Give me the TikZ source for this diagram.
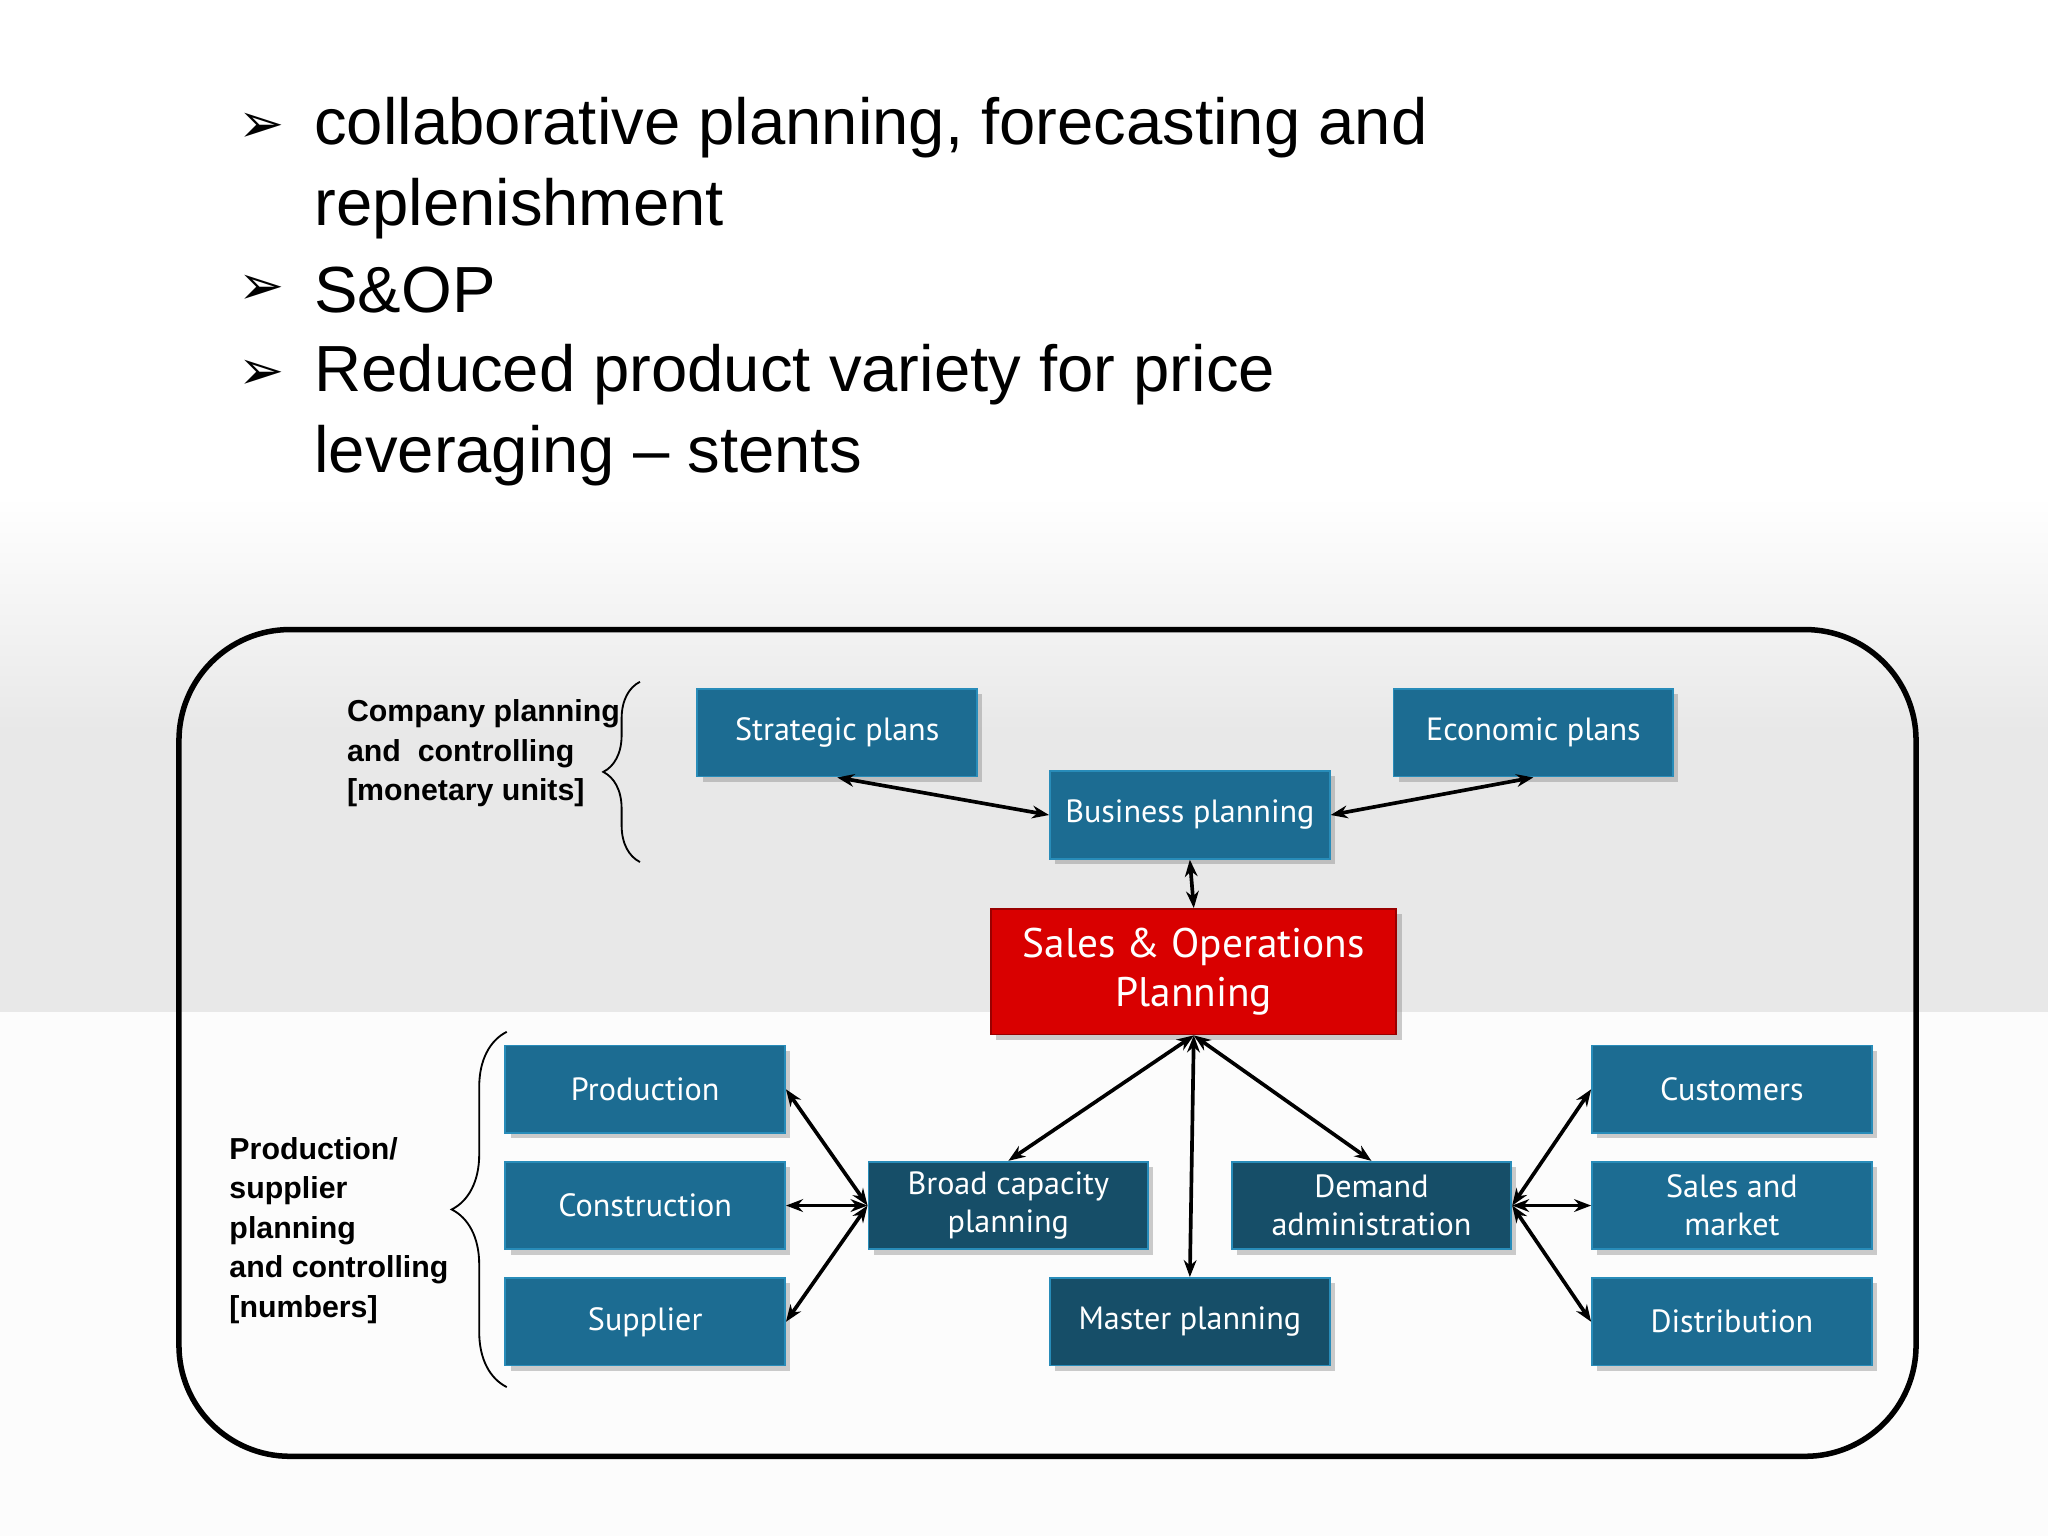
\documentclass[tikz,border=0pt]{standalone}
\usepackage{fontspec}
\setmainfont{Liberation Sans}
\newfontfamily\boxfont{PT Sans}
\newfontfamily\symfont{DejaVu Sans}
\usetikzlibrary{decorations.pathreplacing,arrows.meta,shadows}
\definecolor{bfill}{RGB}{28,108,146}
\definecolor{bdraw}{RGB}{40,140,185}
\definecolor{dfill}{RGB}{22,78,104}
\begin{document}
\begin{tikzpicture}[x=0.01cm,y=-0.01cm,
  bx/.style={draw=bdraw,fill=bfill,text=white,minimum width=2.14cm,minimum height=0.67cm,font=\boxfont\fontsize{7}{8.3}\selectfont,align=center,inner sep=1pt,drop shadow={opacity=0.4,shadow xshift=0.4mm,shadow yshift=-0.4mm}},
  dk/.style={bx,fill=dfill},
  ar/.style={{Stealth[length=1.3mm]}-{Stealth[length=1.3mm]},thick},
  lab/.style={font=\fontsize{6.6}{8.6}\selectfont\bfseries,align=left,anchor=north west,inner sep=0}]
\useasboundingbox (0,0) rectangle (1568,1176);
\fill[white] (0,0) rectangle (1568,1176);
\shade[top color=white,bottom color=black!9] (0,380) rectangle (1568,560);
\fill[black!9] (0,559) rectangle (1568,775);
\fill[black!1] (0,775) rectangle (1568,1176);
\foreach \y/\t in {98/{collaborative planning, forecasting and},222/{S\&OP},287/{Reduced product variety for price}}{
  \node[anchor=west,inner sep=0,font=\fontsize{14.2}{15}\selectfont] (b\y) at (240,\y) {\t};
  \node[anchor=west,inner sep=0,font=\symfont\fontsize{12}{13}\selectfont] at (182,\y) {➢};}
\node[anchor=west,inner sep=0,font=\fontsize{14.2}{15}\selectfont] (l2) at (240,160) {replenishment};
\node[anchor=west,inner sep=0,font=\fontsize{14.2}{15}\selectfont] (l5) at (240,349) {leveraging – stents};
\draw[line width=1.2pt,rounded corners=0.85cm] (137,482) rectangle (1467,1115);
\node[bx] (sp) at (641,561) {Strategic plans};
\node[bx] (ep) at (1174,561) {Economic plans};
\node[bx] (bp) at (911,624) {Business planning};
\node[draw=red!60!black,fill=red!85!black,text=white,minimum width=3.1cm,minimum height=0.96cm,font=\boxfont\fontsize{9}{10.5}\selectfont,align=center,drop shadow={opacity=0.4,shadow xshift=0.4mm,shadow yshift=-0.4mm}] (sop) at (914,744) {Sales \& Operations\\Planning};
\node[bx] (pr) at (494,834) {Production};
\node[bx] (co) at (494,923) {Construction};
\node[bx] (su) at (494,1012) {Supplier};
\node[dk] (bc) at (772,923) {Broad capacity\\planning};
\node[dk] (da) at (1050,923) {Demand\\administration};
\node[dk] (mp) at (911,1012) {Master planning};
\node[bx] (cu) at (1326,834) {Customers};
\node[bx] (sm) at (1326,923) {Sales and\\market};
\node[bx] (di) at (1326,1012) {Distribution};
\draw[ar] (sp.south) -- (bp.west);
\draw[ar] (ep.south) -- (bp.east);
\draw[ar] (bp.south) -- (sop.north);
\draw[ar] (sop.south) -- (bc.north);
\draw[ar] (sop.south) -- (da.north);
\draw[ar] (sop.south) -- (mp.north);
\draw[ar] (bc.west) -- (pr.east);
\draw[ar] (bc.west) -- (co.east);
\draw[ar] (bc.west) -- (su.east);
\draw[ar] (da.east) -- (cu.west);
\draw[ar] (da.east) -- (sm.west);
\draw[ar] (da.east) -- (di.west);
\node[lab] (t1) at (265,535) {Company planning\\and\ \ controlling\\{[}monetary units{]}};
\node[lab] (t2) at (175,870) {Production/\\supplier\\planning\\and controlling\\{[}numbers{]}};
\draw[decorate,decoration={brace,amplitude=8pt}] (490,660) -- (490,522);
\draw[decorate,decoration={brace,amplitude=12pt}] (388,1062) -- (388,790);
\end{tikzpicture}
\end{document}
